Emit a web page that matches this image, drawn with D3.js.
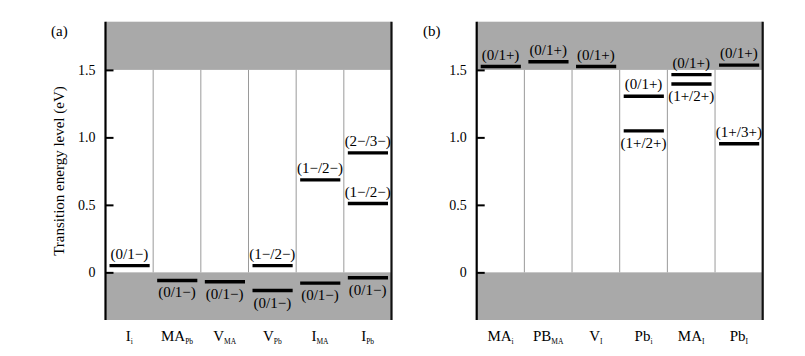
<!DOCTYPE html>
<html><head><meta charset="utf-8">
<script src="https://cdn.jsdelivr.net/npm/d3@7"></script>
<style>body{margin:0;background:#fff}svg{display:block}text{font-family:"Liberation Serif","Times New Roman",serif;fill:#000}</style>
</head><body><svg id="c" width="805" height="356"></svg>
<script>
// ---- data ----
const catsA = [["I","i"],["MA","Pb"],["V","MA"],["V","Pb"],["I","MA"],["I","Pb"]];
const catsB = [["MA","i"],["PB","MA"],["V","I"],["Pb","i"],["MA","I"],["Pb","I"]];
// levels: [categoryIndex, energy, label, labelPosition]
const levelsA = [
  [0, 0.05, "(0/1−)", "above"],
  [1, -0.06, "(0/1−)", "below"],
  [2, -0.07, "(0/1−)", "below"],
  [3, 0.05, "(1−/2−)", "above"],
  [3, -0.135, "(0/1−)", "below"],
  [4, 0.685, "(1−/2−)", "above"],
  [4, -0.08, "(0/1−)", "below"],
  [5, 0.885, "(2−/3−)", "above"],
  [5, 0.51, "(1−/2−)", "above"],
  [5, -0.04, "(0/1−)", "below"]
];
const levelsB = [
  [0, 1.525, "(0/1+)", "above"],
  [1, 1.56, "(0/1+)", "above"],
  [2, 1.525, "(0/1+)", "above"],
  [3, 1.305, "(0/1+)", "above"],
  [3, 1.048, "(1+/2+)", "below"],
  [4, 1.465, "(0/1+)", "above"],
  [4, 1.395, "(1+/2+)", "below"],
  [5, 1.535, "(0/1+)", "above"],
  [5, 0.953, "(1+/3+)", "above"]
];
const yTicks = [0, 0.5, 1.0, 1.5];
const yTickLabels = ["0", "0.5", "1.0", "1.5"];
const bandGap = 1.5;
const yDomain = [-0.353, 1.857];

const svg = d3.select("#c");
const y = d3.scaleLinear().domain(yDomain).range([320, 21.7]);
const gray = "#a9a9a9";

function panel(x0, x1, cats, levels, tag, tagX) {
  const g = svg.append("g");
  const x = d3.scaleBand().domain(d3.range(cats.length)).range([x0, x1]).paddingInner(0).paddingOuter(0);
  // gray regions
  g.append("rect").attr("x", x0).attr("width", x1 - x0).attr("y", y(yDomain[1])).attr("height", y(bandGap) - y(yDomain[1])).attr("fill", gray);
  g.append("rect").attr("x", x0).attr("width", x1 - x0).attr("y", y(0)).attr("height", y(yDomain[0]) - y(0)).attr("fill", gray);
  // separators
  g.selectAll("line.sep").data(d3.range(1, cats.length)).join("line")
    .attr("x1", d => x(d)).attr("x2", d => x(d)).attr("y1", y(bandGap)).attr("y2", y(0))
    .attr("stroke", "#9a9a9a").attr("stroke-width", 1);
  // borders
  g.append("line").attr("x1", x0).attr("x2", x0).attr("y1", y(yDomain[1])).attr("y2", y(yDomain[0])).attr("stroke", "#000").attr("stroke-width", 2.2);
  g.append("line").attr("x1", x1).attr("x2", x1).attr("y1", y(yDomain[1])).attr("y2", y(yDomain[0])).attr("stroke", "#111").attr("stroke-width", 2.2);
  // y axis ticks
  const ax = d3.axisLeft(y).tickValues(yTicks).tickFormat((d, i) => yTickLabels[i]).tickSizeInner(-8).tickSizeOuter(0).tickPadding(10);
  const ag = g.append("g").attr("transform", `translate(${x0},0)`).call(ax);
  ag.select(".domain").remove();
  ag.selectAll(".tick line").attr("stroke", "#000").attr("stroke-width", 2);
  ag.selectAll(".tick text").attr("font-family", "Liberation Serif").attr("font-size", 14).attr("fill", "#000").attr("x", -10);
  // levels
  g.selectAll("line.lvl").data(levels).join("line")
    .attr("x1", d => x(d[0]) + 4).attr("x2", d => x(d[0]) + x.bandwidth() - 3.5)
    .attr("y1", d => y(d[1])).attr("y2", d => y(d[1]))
    .attr("stroke", "#000").attr("stroke-width", 3.4);
  g.selectAll("text.lbl").data(levels).join("text")
    .attr("x", d => x(d[0]) + x.bandwidth() / 2)
    .attr("y", d => d[3] === "above" ? y(d[1]) - 7 : y(d[1]) + 17)
    .attr("text-anchor", "middle").attr("font-size", 15)
    .text(d => d[2]);
  // category labels
  const cl = g.selectAll("text.cat").data(cats).join("text")
    .attr("x", (d, i) => x(i) + x.bandwidth() / 2).attr("y", 341)
    .attr("text-anchor", "middle").attr("font-size", 15);
  cl.append("tspan").text(d => d[0]);
  cl.append("tspan").attr("font-size", 7.5).attr("dy", 3).text(d => d[1]);
  // panel tag
  svg.append("text").attr("x", tagX).attr("y", 36).attr("font-size", 15).text(tag);
}

panel(105.5, 391.5, catsA, levelsA, "(a)", 51);
panel(476.7, 762.7, catsB, levelsB, "(b)", 423);

svg.append("text").attr("transform", "translate(64,171) rotate(-90)")
  .attr("text-anchor", "middle").attr("font-size", 15).text("Transition energy level (eV)");
</script></body></html>
